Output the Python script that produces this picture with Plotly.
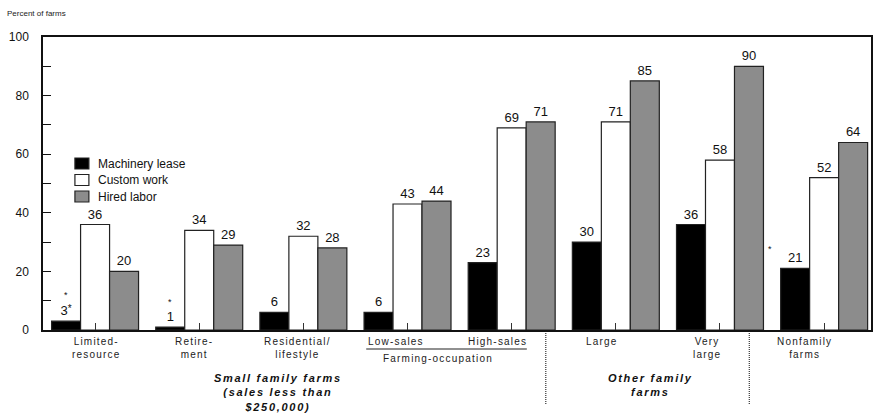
import plotly.graph_objects as go

# Farm types along the x axis (line breaks as printed)
categories = ["Limited-<br>resource", "Retire-<br>ment", "Residential/<br>lifestyle",
              "Low-sales", "High-sales", "Large", "Very<br>large", "Nonfamily<br>farms"]

# Percent of farms using each arrangement
machinery_lease = [3, 1, 6, 6, 23, 30, 36, 21]
custom_work = [36, 34, 32, 43, 69, 71, 58, 52]
hired_labor = [20, 29, 28, 44, 71, 85, 90, 64]

y_ticks = [0, 20, 40, 60, 80, 100]

FONT = "Liberation Sans, Arial, sans-serif"
W, H = 875, 417
ML, MR, MT, MB = 43, 2, 37, 87
X_RANGE = [-0.5, 7.45]

plot_w = W - ML - MR
plot_h = H - MT - MB


def px_x(px):
    """Horizontal pixel position -> x data coordinate."""
    return X_RANGE[0] + (px - ML) / plot_w * (X_RANGE[1] - X_RANGE[0])


def px_p(px):
    """Horizontal pixel position -> paper coordinate."""
    return (px - ML) / plot_w


def py_p(py):
    """Vertical pixel position -> paper coordinate."""
    return (H - MB - py) / plot_h


def spaced(text, ls):
    """Wrap every line of a label in a letter-spaced span."""
    return "<br>".join(f'<span style="letter-spacing:{ls}px">{ln}</span>'
                       for ln in text.split("<br>"))


x = list(range(len(categories)))

series = [
    ("Machinery lease", machinery_lease, "#000000"),
    ("Custom work", custom_work, "#ffffff"),
    ("Hired labor", hired_labor, "#8c8c8c"),
]

# Footnote mark that follows one of the values (small and raised)
suffix = {("Machinery lease", 0):
          '<span style="font-size:10px;baseline-shift:35%">*</span>'}

fig = go.Figure()
for name, vals, color in series:
    labels = [str(v) + suffix.get((name, i), "") for i, v in enumerate(vals)]
    fig.add_trace(go.Bar(
        name=name, x=x, y=vals,
        marker=dict(color=color, line=dict(color="#222222", width=1.2)),
        text=labels, textposition="outside",
        textfont=dict(family=FONT, size=13, color="#111111"),
        cliponaxis=False, showlegend=False,
    ))

ann = []
# Category labels under the axis
label_pos = [97, 194, 298, 397, 499, 603, 709, 806]
for lab, px in zip(categories, label_pos):
    ann.append(dict(x=px_x(px), y=py_p(334), xref="x", yref="paper",
                    text=spaced(lab, 1.2), showarrow=False, xanchor="center",
                    yanchor="top", font=dict(family=FONT, size=10, color="#222222")))

# Farming-occupation bracket label
ann.append(dict(x=px_x(439), y=py_p(351), xref="x", yref="paper",
                text=spaced("Farming-occupation", 1.2), showarrow=False,
                xanchor="center", yanchor="top",
                font=dict(family=FONT, size=10, color="#222222")))

# Group titles
ann.append(dict(x=px_x(279), y=py_p(370), xref="x", yref="paper",
                text="<b><i>" + spaced("Small family farms<br>(sales less than<br>$250,000)", 1.7) + "</i></b>",
                showarrow=False, xanchor="center", yanchor="top",
                font=dict(family=FONT, size=11, color="#111111")))
ann.append(dict(x=px_x(652), y=py_p(370), xref="x", yref="paper",
                text="<b><i>" + spaced("Other family<br>farms", 1.7) + "</i></b>",
                showarrow=False, xanchor="center", yanchor="top",
                font=dict(family=FONT, size=11, color="#111111")))

# Footnote asterisks set above a few values
for px, py in [(66, 302), (170, 309), (772, 256)]:
    ann.append(dict(x=px_x(px), y=py_p(py), xref="x", yref="paper", text="*",
                    showarrow=False, xanchor="center", yanchor="bottom",
                    font=dict(family=FONT, size=9, color="#111111")))

# Axis title
ann.append(dict(x=px_p(5), y=py_p(7), xref="paper", yref="paper",
                text="Percent of farms", showarrow=False, xanchor="left",
                yanchor="top", font=dict(family=FONT, size=8, color="#222222")))

shapes = []
# Legend: swatches and names
legend_rows = [158, 174.5, 191]
for (name, _, color), top in zip(series, legend_rows):
    shapes.append(dict(type="rect", xref="paper", yref="paper",
                       x0=px_p(75), x1=px_p(89), y0=py_p(top), y1=py_p(top + 11),
                       fillcolor=color, line=dict(color="#222222", width=1.2)))
    ann.append(dict(x=px_p(96), y=py_p(top + 5.5), xref="paper", yref="paper",
                    text=name, showarrow=False, xanchor="left", yanchor="middle",
                    font=dict(family=FONT, size=12, color="#111111")))

# Dotted separators between farm groups
for px in (547, 751):
    shapes.append(dict(type="line", xref="x", yref="paper",
                       x0=px_x(px), x1=px_x(px), y0=py_p(333), y1=py_p(404),
                       line=dict(color="#333333", width=1.2, dash="1px,1px")))
# Rule under Low-sales / High-sales
shapes.append(dict(type="line", xref="x", yref="paper",
                   x0=px_x(367), x1=px_x(528), y0=py_p(349), y1=py_p(349),
                   line=dict(color="#222222", width=1.2)))

fig.update_layout(
    width=W, height=H,
    margin=dict(l=ML, r=MR, t=MT, b=MB, pad=0),
    paper_bgcolor="white", plot_bgcolor="white",
    barmode="group", bargap=0.165, bargroupgap=0,
    font=dict(family=FONT, color="#111111"),
    showlegend=False,
    annotations=ann, shapes=shapes,
    xaxis=dict(range=X_RANGE, tickvals=x, showticklabels=False,
               ticks="inside", ticklen=7, tickcolor="#333333", tickwidth=1,
               showline=True, linecolor="#111111", linewidth=1.5, mirror=True,
               showgrid=False, zeroline=False, fixedrange=True),
    yaxis=dict(range=[0, 100], tickvals=y_ticks, ticks="inside", ticklen=8,
               tickcolor="#111111", tickwidth=1,
               minor=dict(dtick=10, ticks="inside", ticklen=8, tickcolor="#111111"),
               showline=True, linecolor="#111111", linewidth=1.5, mirror=True,
               showgrid=False, zeroline=False, ticklabelstandoff=10,
               tickfont=dict(family=FONT, size=12, color="#111111")),
)

fig.write_html("out.html")
